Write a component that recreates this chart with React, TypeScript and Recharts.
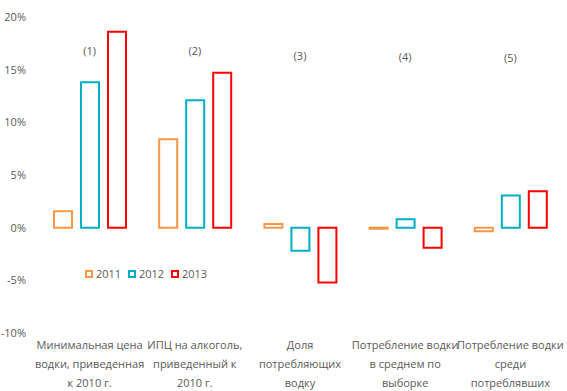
import React from "react";
import { BarChart, Bar, XAxis, YAxis, ReferenceDot } from "recharts";

const categories = [
  "Минимальная цена\nводки, приведенная\nк 2010 г.",
  "ИПЦ на алкоголь,\nприведенный к\n2010 г.",
  "Доля\nпотребляющих\nводку",
  "Потребление водки\nв среднем по\nвыборке",
  "Потребление водки\nсреди\nпотреблявших",
];
const values2011 = [1.55, 8.4, 0.35, -0.1, -0.35];
const values2012 = [13.8, 12.1, -2.2, 0.8, 3.05];
const values2013 = [18.6, 14.7, -5.2, -1.9, 3.45];
const yTicks = [-10, -5, 0, 5, 10, 15, 20];
const groupLabels = ["(1)", "(2)", "(3)", "(4)", "(5)"];
const groupLabelY = [16.8, 16.8, 16.3, 16.2, 16.1];

const series = [
  { key: "y2011", name: "2011", color: "#F79646" },
  { key: "y2012", name: "2012", color: "#00AFC6" },
  { key: "y2013", name: "2013", color: "#FF0000" },
];

const data = categories.map((c, i) => ({
  name: c,
  y2011: values2011[i],
  y2012: values2012[i],
  y2013: values2013[i],
}));

const font = "'Open Sans', sans-serif";
const textColor = "#595959";

const CategoryTick: React.FC<any> = ({ x, y, payload }) => {
  const lines = String(payload.value).split("\n");
  return (
    <text x={x} y={y} textAnchor="middle" fill={textColor} fontSize={11} fontFamily={font}>
      {lines.map((l, i) => (
        <tspan key={i} x={x} dy={i === 0 ? 8 : 19}>
          {l}
        </tspan>
      ))}
    </text>
  );
};

function LegendBox() {
  return (
    <div style={{ position: "absolute", left: 85, top: 266, display: "flex", fontFamily: font, fontSize: 11, color: textColor }}>
      {series.map((s) => (
        <div key={s.key} style={{ display: "flex", alignItems: "center", width: 43 }}>
          <span style={{ width: 4, height: 4, border: `2px solid ${s.color}`, marginRight: 3 }} />
          <span>{s.name}</span>
        </div>
      ))}
    </div>
  );
}

export default function App() {
  return (
    <div style={{ position: "absolute", left: 0, top: 0, width: 567, height: 391, background: "#fff" }}>
      <BarChart
        width={567}
        height={391}
        data={data}
        margin={{ top: 17, right: 4, left: 0, bottom: 0 }}
        barSize={18}
        barGap={9}
      >
        <XAxis
          dataKey="name"
          axisLine={false}
          tickLine={false}
          height={58}
          interval={0}
          tick={<CategoryTick />}
        />
        <YAxis
          domain={[-10, 20]}
          ticks={yTicks}
          width={37}
          axisLine={false}
          tickLine={false}
          tickSize={0}
          tickMargin={11}
          tickFormatter={(v: number) => `${v}%`}
          tick={{ fill: textColor, fontSize: 11, fontFamily: font }}
        />
        {series.map((s) => (
          <Bar
            key={s.key}
            dataKey={s.key}
            name={s.name}
            fill="#ffffff"
            stroke={s.color}
            strokeWidth={2}
            isAnimationActive={false}
          />
        ))}
        {groupLabels.map((l, i) => (
          <ReferenceDot
            key={l}
            x={categories[i]}
            y={groupLabelY[i]}
            r={0}
            ifOverflow="visible"
            fill="none"
            stroke="none"
            label={{ value: l, position: "center", fill: textColor, fontSize: 11, fontFamily: font }}
          />
        ))}
      </BarChart>
      <LegendBox />
    </div>
  );
}
